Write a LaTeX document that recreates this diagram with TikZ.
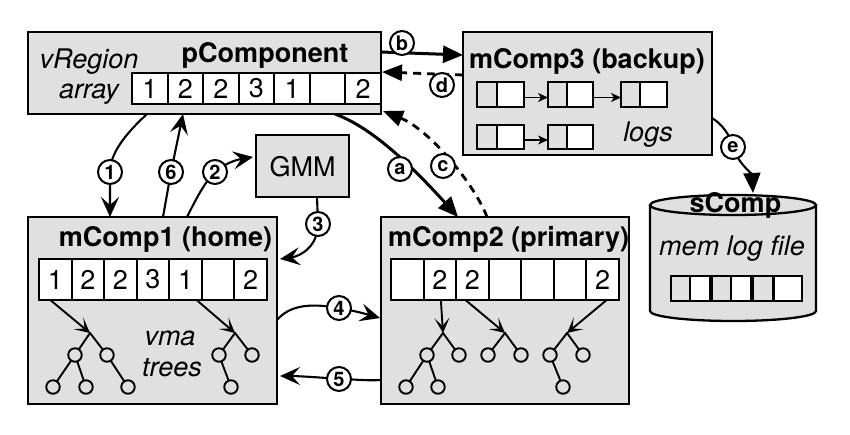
\documentclass[tikz,border=0pt]{standalone}
\usepackage{fontspec}
\setmainfont{TeX Gyre Heros}
\usetikzlibrary{arrows.meta,calc}
\definecolor{boxgray}{HTML}{E0E0E0}
\pgfdeclarelayer{bg}
\pgfsetlayers{bg,main}
\newcommand\bigtxt{\fontsize{27}{30}\selectfont}
\begin{document}
\begin{tikzpicture}[x=1pt,y=-1pt,
  box/.style={draw, line width=2.3pt, fill=boxgray, inner sep=0pt, outer sep=0pt, anchor=north west},
  cellbox/.style={draw, line width=1.9pt, fill=white, inner sep=0pt, outer sep=0pt, anchor=north west, font=\bigtxt},
  greycell/.style={draw, line width=1.9pt, fill=boxgray, inner sep=0pt, outer sep=0pt, anchor=north west},
  title/.style={font=\bigtxt\bfseries, inner sep=0pt, anchor=base},
  itxt/.style={font=\bigtxt\itshape, inner sep=0pt, anchor=base},
  rtxt/.style={font=\bigtxt, inner sep=0pt, anchor=base},
  circ/.style={circle, draw, line width=2pt, fill=white, inner sep=0pt, minimum size=24pt, font=\fontsize{20}{20}\selectfont\bfseries},
  conn/.style={line width=2.1pt, -{Stealth[length=20pt,width=18pt,inset=8pt]}},
  heavy/.style={line width=3pt, -{Triangle[length=20pt,width=17pt]}},
  dashy/.style={line width=2.8pt, dash pattern=on 8pt off 6pt, -{Triangle[length=20pt,width=16pt]}},
  tn/.style={circle, draw, line width=1.9pt, inner sep=0pt, outer sep=0pt, minimum size=13.5pt},
  tl/.style={line width=1.9pt},
  tarr/.style={line width=1.9pt, -{Stealth[length=15pt,width=15pt,inset=8pt]}},
  larr/.style={line width=1.9pt, -{Stealth[length=10pt,width=9pt,inset=3pt]}}
]
\useasboundingbox (0,0) rectangle (850,434);

% ---------- boxes ----------
\node[box, minimum width=353pt, minimum height=82pt] (pc) at (28,32) {};
\node[box, minimum width=93pt, minimum height=62pt] (gmm) at (256,135) {};
\node[box, minimum width=249pt, minimum height=123pt] (m3) at (463,32) {};
\node[box, minimum width=249pt, minimum height=187pt] (m1) at (28,217) {};
\node[box, minimum width=248pt, minimum height=187pt] (m2) at (381,217) {};

% ---------- titles and texts ----------
\node[title] (pct) at (265,62) {pComponent};
\node[itxt] (vr) at (89,68) {vRegion};
\node[itxt] (ar) at (89,98) {array};
\node[rtxt] (gmmt) at (302.5,176.5) {GMM};
\node[title] (m3t) at (587,68) {mComp3 (backup)};
\node[title] (m1t) at (165.5,246.5) {mComp1 (home)};
\node[title, anchor=base west] (m2t) at (388,246.5) {mComp2 (primary)};
\node[itxt] (logs) at (648,141) {logs};
\node[itxt] (vma) at (170,345.5) {vma};
\node[itxt] (trees) at (172,376) {trees};

% ---------- arrays ----------
\foreach \v [count=\i from 0] in {1,2,2,3,1,{},2}
  \node[cellbox, minimum width=35.57pt, minimum height=31pt] (pa\i) at ({132+\i*35.57},73) {\v};
\foreach \v [count=\i from 1] in {1,2,2,3,1,{},2}
  \node[cellbox, minimum width=32.57pt, minimum height=41pt] (ma\i) at ({39+(\i-1)*32.57},259) {\v};
\foreach \v [count=\i from 1] in {{},2,2,{},{},{},2}
  \node[cellbox, minimum width=32.57pt, minimum height=41pt] (mb\i) at ({391+(\i-1)*32.57},259) {\v};

% ---------- logs in mComp3 ----------
\node[greycell, minimum width=20pt, minimum height=25pt] (l1a) at (477,82) {};
\node[cellbox, minimum width=27pt, minimum height=25pt, anchor=west] (l1b) at (l1a.east) {};
\node[greycell, minimum width=19pt, minimum height=25pt] (l2a) at (548,82) {};
\node[cellbox, minimum width=26pt, minimum height=25pt, anchor=west] (l2b) at (l2a.east) {};
\node[greycell, minimum width=19pt, minimum height=25pt] (l3a) at (621,82) {};
\node[cellbox, minimum width=27pt, minimum height=25pt, anchor=west] (l3b) at (l3a.east) {};
\node[greycell, minimum width=20pt, minimum height=24pt] (l4a) at (477,125) {};
\node[cellbox, minimum width=27pt, minimum height=24pt, anchor=west] (l4b) at (l4a.east) {};
\node[greycell, minimum width=19pt, minimum height=24pt] (l5a) at (548,125) {};
\node[cellbox, minimum width=26pt, minimum height=24pt, anchor=west] (l5b) at (l5a.east) {};
\draw[larr] ($(l1b.east)+(0,3)$) -- ($(l2a.west)+(0,3)$);
\draw[larr] ($(l2b.east)+(0,3)$) -- ($(l3a.west)+(0,3)$);
\draw[larr] ($(l4b.east)+(0,3)$) -- ($(l5a.west)+(0,3)$);

% ---------- sComp cylinder ----------
\fill[boxgray] (650,205) -- (650,311)
  .. controls (650,316.5) and (686.4,321) .. (733,321)
  .. controls (779.6,321) and (816,316.5) .. (816,311) -- (816,205) -- cycle;
\fill[boxgray] (733,205) ellipse [x radius=83, y radius=10];
\draw[line width=2.3pt] (650,205) -- (650,311)
  .. controls (650,316.5) and (686.4,321) .. (733,321)
  .. controls (779.6,321) and (816,316.5) .. (816,311) -- (816,205);
\node[title] (sct) at (735.5,212) {sComp};
\draw[line width=2.3pt] (733,205) ellipse [x radius=83, y radius=10];
\node[inner sep=0pt, outer sep=0pt, minimum width=166pt, minimum height=126pt] (scomp) at (733,258) {};
\node[itxt] (mlf) at (732,255) {mem log file};
\foreach \w/\f [count=\i from 1] in {671/boxgray,690/white,712/boxgray,731/white,753/boxgray}
  \node[cellbox, fill=\f, minimum width=20pt, minimum height=25pt] (sc\i) at (\w,276) {};
\node[cellbox, minimum width=28pt, minimum height=25pt] (sc6) at (774,276) {};

% ---------- trees in mComp1 ----------
\coordinate (t1r) at (90,333);
\node[tn] (t1a) at (75,355) {}; \node[tn] (t1b) at (107,355) {};
\node[tn] (t1c) at (53,387) {}; \node[tn] (t1d) at (86,387) {}; \node[tn] (t1e) at (128,387) {};
\draw[tl] (t1a) -- (t1r) -- (t1b);
\draw[tl] (t1c) -- (t1a) -- (t1d);
\draw[tl] (t1b) -- (t1e);
\draw[tarr] ($(ma1.south)+(-5,0)$) -- (t1r);

\coordinate (t2r) at (235,333);
\node[tn] (t2a) at (219,355) {}; \node[tn] (t2b) at (252,355) {};
\node[tn] (t2c) at (231,387) {};
\draw[tl] (t2a) -- (t2r) -- (t2b);
\draw[tl] (t2a) -- (t2c);
\draw[tarr] ($(ma5.south)+(11,0)$) -- (t2r);

% ---------- trees in mComp2 ----------
\coordinate (t3r) at (443,333);
\node[tn] (t3a) at (427,355) {}; \node[tn] (t3b) at (459,355) {};
\node[tn] (t3c) at (406,387) {}; \node[tn] (t3d) at (438,387) {};
\draw[tl] (t3a) -- (t3r) -- (t3b);
\draw[tl] (t3c) -- (t3a) -- (t3d);
\draw[tarr] ($(mb2.south)+(1,0)$) -- (t3r);

\coordinate (t4r) at (505,333);
\node[tn] (t4a) at (488,355) {}; \node[tn] (t4b) at (521,355) {};
\draw[tl] (t4a) -- (t4r) -- (t4b);
\draw[tarr] ($(mb3.south)+(-7,0)$) -- (t4r);

\coordinate (t5r) at (567,333);
\node[tn] (t5a) at (550,355) {}; \node[tn] (t5b) at (583,355) {};
\node[tn] (t5c) at (563,387) {};
\draw[tl] (t5a) -- (t5r) -- (t5b);
\draw[tl] (t5a) -- (t5c);
\draw[tarr] ($(mb7.south)+(4,0)$) -- (t5r);

% ---------- circled labels ----------
\node[circ] (c1) at (110,172) {1};
\node[circ] (c6) at (171,172) {6};
\node[circ] (c2) at (215,172) {2};
\node[circ] (c3) at (318,224) {3};
\node[circ] (c4) at (339,308) {4};
\node[circ] (c5) at (339,379) {5};
\node[circ] (ca) at (400,169) {a};
\node[circ] (cc) at (443,166) {c};
\node[circ] (cb) at (402,43) {b};
\node[circ] (cd) at (442,85) {d};
\node[circ] (ce) at (733,147) {e};

% ---------- connectors ----------
\begin{pgfonlayer}{bg}
\draw[conn] ($(pc.south west)+(119,0)$) .. controls (132,128) and (110,150) .. (c1.center) -- ($(m1.north west)+(82,0)$);
\draw[conn] ($(m1.north west)+(135,0)$) -- (c6.center) -- ($(pc.south west)+(155,0)$);
\draw[conn] ($(m1.north west)+(159,0)$) .. controls (197,197) and (205,182) .. (c2.center)
  .. controls (224,164) and (235,160) .. ($(gmm.west)+(-3,-9)$);
\draw[conn] ($(gmm.south)+(14.5,0)$) -- (c3.center) .. controls (318,245) and (302,256) .. ($(m1.north east)+(3,42)$);
\draw[conn] ($(m1.north east)+(0,103)$) .. controls (290,305) and (310,303) .. (c4.center)
  .. controls (355,311) and (366,314) .. ($(m2.north west)+(-1,101)$);
\draw[conn] ($(m2.north west)+(0,163)$) .. controls (366,381) and (352,379) .. (c5.center)
  .. controls (315,377) and (296,376) .. ($(m1.north east)+(3,159)$);
\draw[heavy] ($(pc.south east)+(-46,0)$) .. controls (365,125) and (400,153) .. ($(m2.north west)+(77,0)$);
\draw[dashy] ($(m2.north west)+(106,0)$) .. controls (475,185) and (430,130) .. ($(pc.south east)+(2,-3)$);
\draw[heavy] ($(pc.north east)+(0,20)$) -- ($(m3.north west)+(0,23)$);
\draw[dashy] ($(m3.north west)+(0,43)$) -- ($(pc.north east)+(1,40)$);
\draw[heavy, line width=2.1pt] ($(m3.north east)+(0,86)$) .. controls (722,124) and (730,135) .. (ce.center)
  .. controls (736,160) and (752,175) .. ($(scomp.north)+(20,-2)$);
\end{pgfonlayer}
\end{tikzpicture}
\end{document}
